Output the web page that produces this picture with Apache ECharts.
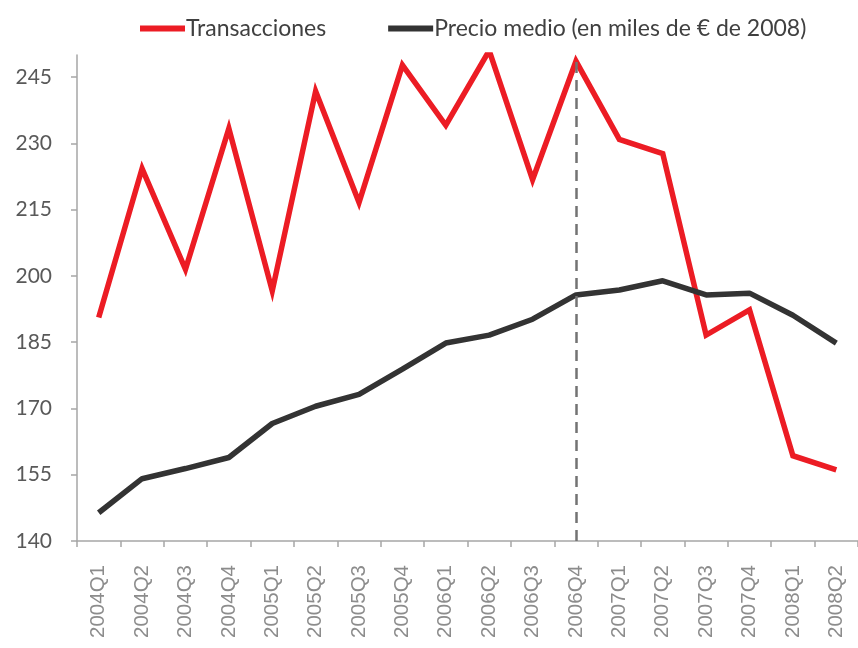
<!DOCTYPE html>
<html>
<head>
<meta charset="utf-8">
<script src="https://cdn.jsdelivr.net/npm/echarts@6/dist/echarts.min.js"></script>
<style>html,body{margin:0;padding:0;background:#fff}#c{width:858px;height:648px}</style>
</head>
<body>
<div id="c"></div>
<script>
const categories = ['2004Q1','2004Q2','2004Q3','2004Q4','2005Q1','2005Q2','2005Q3','2005Q4','2006Q1','2006Q2','2006Q3','2006Q4','2007Q1','2007Q2','2007Q3','2007Q4','2008Q1','2008Q2'];
const transacciones = [190.6, 224.3, 201.5, 233.4, 196.6, 241.8, 216.6, 247.7, 234.1, 251.0, 221.8, 248.6, 230.9, 227.7, 186.6, 192.3, 159.3, 156.1];
const precioMedio = [146.4, 154.1, 156.4, 158.9, 166.6, 170.5, 173.2, 178.9, 184.8, 186.6, 190.2, 195.7, 196.8, 198.9, 195.7, 196.1, 191.1, 184.8];
const yTicks = [140, 155, 170, 185, 200, 215, 230, 245];
const markerCategory = '2006Q4';

const chart = echarts.init(document.getElementById('c'), null, {renderer: 'canvas'});
const font = 'Lato, "Open Sans", sans-serif';
chart.setOption({
  animation: false,
  backgroundColor: '#ffffff',
  legend: {
    left: 135, top: 12,
    itemWidth: 45, itemHeight: 6, itemGap: 62,
    icon: 'rect',
    textStyle: {fontFamily: font, fontSize: 23, color: '#404040', padding: [0,0,0,-4]},
    data: ['Transacciones', 'Precio medio (en miles de € de 2008)']
  },
  grid: {left: 77, right: 0, top: 55, bottom: 107, containLabel: false},
  xAxis: {
    type: 'category',
    data: categories,
    boundaryGap: true,
    axisLine: {lineStyle: {color: '#a6a6a6', width: 1.5}},
    axisTick: {show: true, length: 6, lineStyle: {color: '#a6a6a6', width: 1.5}},
    axisLabel: {rotate: 90, margin: 24, fontFamily: '"Liberation Sans", Arial, sans-serif', fontSize: 20.5, color: '#8c8c8c', interval: 0},
    splitLine: {show: false}
  },
  yAxis: {
    type: 'value',
    min: 140, max: 250,
    axisLine: {show: true, lineStyle: {color: '#a6a6a6', width: 1.5}},
    axisTick: {show: true, length: 6, customValues: yTicks, lineStyle: {color: '#a6a6a6', width: 1.5}},
    axisLabel: {customValues: yTicks, margin: 25, fontFamily: font, fontSize: 21, color: '#595959'},
    splitLine: {show: false}
  },
  series: [
    {
      name: 'Transacciones', type: 'line', data: transacciones,
      symbol: 'none', clip: true,
      itemStyle: {color: '#ec1c24'},
      lineStyle: {color: '#ec1c24', width: 5.5, join: 'miter'},
      markLine: {
        silent: true, symbol: ['none', 'none'], label: {show: false},
        lineStyle: {color: '#737373', width: 2.5, type: [11, 7]},
        data: [{xAxis: markerCategory}]
      }
    },
    {
      name: 'Precio medio (en miles de € de 2008)', type: 'line', data: precioMedio,
      symbol: 'none',
      itemStyle: {color: '#333333'},
      lineStyle: {color: '#333333', width: 5.5}
    }
  ]
});
</script>
</body>
</html>
